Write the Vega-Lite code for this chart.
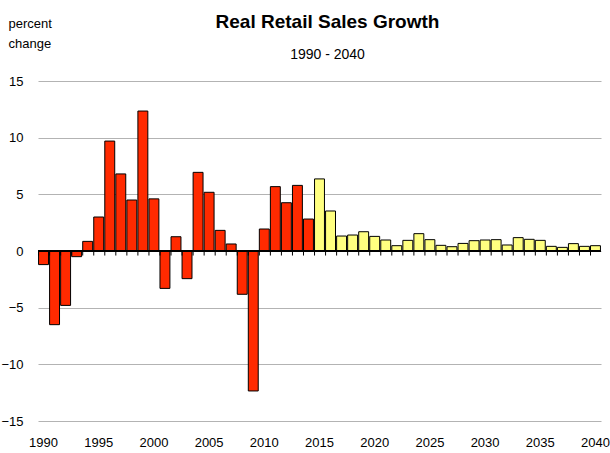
{
  "$schema": "https://vega.github.io/schema/vega-lite/v6.json",
  "width": 563,
  "height": 340,
  "autosize": {"type": "none"},
  "padding": {"left": 38, "top": 81, "right": 9, "bottom": 32},
  "background": "white",
  "config": {
    "view": {"stroke": null},
    "font": "Liberation Sans Narrow, Arial Narrow, Liberation Sans"
  },
  "title": {
    "text": "Real Retail Sales Growth",
    "subtitle": "1990 - 2040",
    "anchor": "middle",
    "frame": "group",
    "fontSize": 19,
    "fontWeight": "bold",
    "color": "black",
    "subtitleFontSize": 14,
    "subtitleColor": "black",
    "subtitlePadding": 16,
    "offset": -45,
    "dx": 8,
    "font": "Liberation Sans Narrow, Arial Narrow, Liberation Sans",
    "subtitleFont": "Liberation Sans Narrow, Arial Narrow, Liberation Sans"
  },
  "data": {
    "values": [
      {"year": 1990, "value": -1.2, "type": "actual"},
      {"year": 1991, "value": -6.5, "type": "actual"},
      {"year": 1992, "value": -4.8, "type": "actual"},
      {"year": 1993, "value": -0.5, "type": "actual"},
      {"year": 1994, "value": 0.85, "type": "actual"},
      {"year": 1995, "value": 3.0, "type": "actual"},
      {"year": 1996, "value": 9.7, "type": "actual"},
      {"year": 1997, "value": 6.8, "type": "actual"},
      {"year": 1998, "value": 4.5, "type": "actual"},
      {"year": 1999, "value": 12.35, "type": "actual"},
      {"year": 2000, "value": 4.6, "type": "actual"},
      {"year": 2001, "value": -3.3, "type": "actual"},
      {"year": 2002, "value": 1.26, "type": "actual"},
      {"year": 2003, "value": -2.44, "type": "actual"},
      {"year": 2004, "value": 6.94, "type": "actual"},
      {"year": 2005, "value": 5.18, "type": "actual"},
      {"year": 2006, "value": 1.82, "type": "actual"},
      {"year": 2007, "value": 0.62, "type": "actual"},
      {"year": 2008, "value": -3.82, "type": "actual"},
      {"year": 2009, "value": -12.35, "type": "actual"},
      {"year": 2010, "value": 1.94, "type": "actual"},
      {"year": 2011, "value": 5.68, "type": "actual"},
      {"year": 2012, "value": 4.26, "type": "actual"},
      {"year": 2013, "value": 5.79, "type": "actual"},
      {"year": 2014, "value": 2.82, "type": "actual"},
      {"year": 2015, "value": 6.36, "type": "forecast"},
      {"year": 2016, "value": 3.53, "type": "forecast"},
      {"year": 2017, "value": 1.32, "type": "forecast"},
      {"year": 2018, "value": 1.41, "type": "forecast"},
      {"year": 2019, "value": 1.7, "type": "forecast"},
      {"year": 2020, "value": 1.29, "type": "forecast"},
      {"year": 2021, "value": 0.97, "type": "forecast"},
      {"year": 2022, "value": 0.47, "type": "forecast"},
      {"year": 2023, "value": 0.94, "type": "forecast"},
      {"year": 2024, "value": 1.53, "type": "forecast"},
      {"year": 2025, "value": 1.0, "type": "forecast"},
      {"year": 2026, "value": 0.5, "type": "forecast"},
      {"year": 2027, "value": 0.38, "type": "forecast"},
      {"year": 2028, "value": 0.67, "type": "forecast"},
      {"year": 2029, "value": 0.91, "type": "forecast"},
      {"year": 2030, "value": 0.97, "type": "forecast"},
      {"year": 2031, "value": 1.0, "type": "forecast"},
      {"year": 2032, "value": 0.53, "type": "forecast"},
      {"year": 2033, "value": 1.18, "type": "forecast"},
      {"year": 2034, "value": 1.03, "type": "forecast"},
      {"year": 2035, "value": 0.94, "type": "forecast"},
      {"year": 2036, "value": 0.41, "type": "forecast"},
      {"year": 2037, "value": 0.32, "type": "forecast"},
      {"year": 2038, "value": 0.65, "type": "forecast"},
      {"year": 2039, "value": 0.41, "type": "forecast"},
      {"year": 2040, "value": 0.47, "type": "forecast"}
    ]
  },
  "encoding": {
    "x": {
      "field": "year",
      "type": "ordinal",
      "scale": {"paddingInner": 0.1, "paddingOuter": 0.05},
      "axis": {
        "title": null,
        "values": [1990, 1995, 2000, 2005, 2010, 2015, 2020, 2025, 2030, 2035, 2040],
        "labelAngle": 0,
        "ticks": false,
        "domain": false,
        "labelFontSize": 13,
        "labelColor": "black",
        "labelPadding": 15,
        "labelFont": "Liberation Sans Narrow, Arial Narrow, Liberation Sans"
      }
    }
  },
  "layer": [
    {
      "mark": {"type": "bar", "stroke": "black", "strokeWidth": 1},
      "encoding": {
        "y": {
          "field": "value",
          "type": "quantitative",
          "scale": {"domain": [-15, 15], "nice": false},
          "axis": {
            "values": [-15, -10, -5, 0, 5, 10, 15],
            "grid": true,
            "gridColor": "#b3b3b3",
            "gridWidth": 1,
            "domain": false,
            "ticks": false,
            "labelFontSize": 13,
            "labelColor": "black",
            "labelPadding": 15,
            "labelFont": "Liberation Sans Narrow, Arial Narrow, Liberation Sans",
            "title": ["percent", "change"],
            "titleAngle": 0,
            "titleAlign": "left",
            "titleBaseline": "top",
            "titleX": -30,
            "titleY": -64,
            "titleFontSize": 13,
            "titleFontWeight": "normal",
            "titleColor": "black",
            "titleLineHeight": 20,
            "titleFont": "Liberation Sans Narrow, Arial Narrow, Liberation Sans"
          }
        },
        "fill": {
          "field": "type",
          "type": "nominal",
          "scale": {"domain": ["actual", "forecast"], "range": ["#ff2a00", "#ffff80"]},
          "legend": null
        }
      }
    },
    {
      "mark": {"type": "rule", "color": "black", "strokeWidth": 1},
      "encoding": {
        "x": {"field": "year", "type": "ordinal", "bandPosition": 0},
        "y": {"datum": 0, "type": "quantitative"},
        "y2": {"datum": -0.4}
      }
    },
    {
      "mark": {"type": "rule", "color": "black", "strokeWidth": 1.5},
      "encoding": {
        "y": {"datum": 0, "type": "quantitative"},
        "x": null
      }
    }
  ]
}
